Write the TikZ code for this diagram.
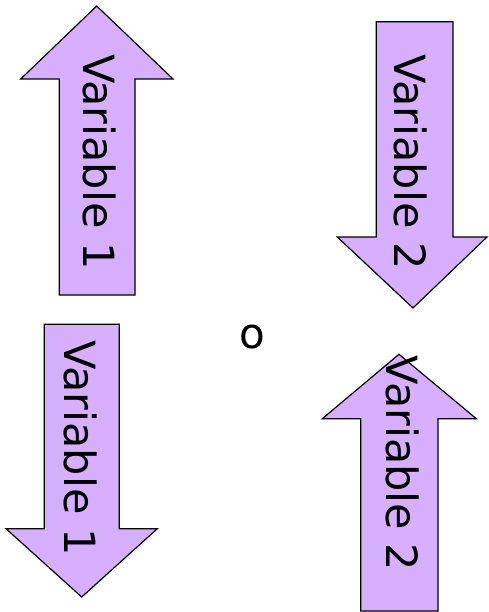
\documentclass[tikz,border=0pt]{standalone}
\usepackage{fontspec}
\setmainfont{DejaVu Sans}
\definecolor{arrowfill}{RGB}{215,175,255}
\begin{document}
\begin{tikzpicture}[x=1pt,y=-1pt,
  arrowshape/.style={draw=black,fill=arrowfill,line width=1.2pt,line join=miter},
  label/.style={inner sep=0pt,rotate=-90,font=\fontsize{43}{43}\selectfont}]
\useasboundingbox (0,0) rectangle (488,612);
% Arrow 1: top-left, pointing up
\draw[arrowshape] (59.3,295) -- (59.3,79) -- (20.7,79) -- (96.7,6) -- (173,79) -- (135,79) -- (135,295) -- cycle;
\node[label] (v1a) at (100,162) {Variable 1};
% Arrow 2: top-right, pointing down
\draw[arrowshape] (376.3,21.7) -- (453,21.7) -- (453,237) -- (487,237) -- (413,308) -- (337.3,237) -- (376.3,237) -- cycle;
\node[label] (v2a) at (411,162) {Variable 2};
% Arrow 3: bottom-left, pointing down
\draw[arrowshape] (44.3,324.3) -- (119.3,324.3) -- (119.3,528.7) -- (157.3,528.7) -- (81.7,597) -- (6,528.7) -- (44.3,528.7) -- cycle;
\node[label] (v1b) at (81,448) {Variable 1};
% Arrow 4: bottom-right, pointing up
\draw[arrowshape] (360.7,611) -- (360.7,418.7) -- (322.3,418.7) -- (399,354.3) -- (476.3,418.7) -- (438,418.7) -- (438,611) -- cycle;
\node[label] (v2b) at (403,463.5) {Variable 2};
% the "o"
\node[inner sep=0pt,font=\fontsize{42}{42}\selectfont] (o) at (252.7,336.7) {o};
\end{tikzpicture}
\end{document}
